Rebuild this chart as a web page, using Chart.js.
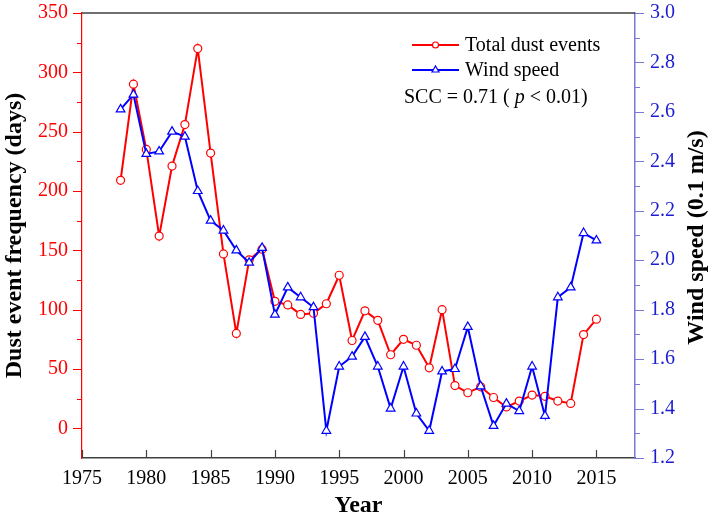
<!DOCTYPE html>
<html>
<head>
<meta charset="utf-8">
<script src="https://cdn.jsdelivr.net/npm/chart.js@4/dist/chart.umd.min.js"></script>
<style>
  html, body { margin: 0; padding: 0; background: #fff; }
  #wrap { width: 712px; height: 520px; }
</style>
</head>
<body>
<div id="wrap"><canvas id="c" width="712" height="520"></canvas></div>
<script>
// ---- data ----
const years = [1978, 1979, 1980, 1981, 1982, 1983, 1984, 1985, 1986, 1987, 1988, 1989,
  1990, 1991, 1992, 1993, 1994, 1995, 1996, 1997, 1998, 1999, 2000, 2001, 2002, 2003,
  2004, 2005, 2006, 2007, 2008, 2009, 2010, 2011, 2012, 2013, 2014, 2015];
const dustEvents = [209, 290, 235, 162, 221, 256, 320, 232, 147, 80, 142, 151,
  107, 104, 96, 97, 105, 129, 74, 99, 91, 62, 75, 70, 51, 100,
  36, 30, 35, 26, 18, 23, 28, 27, 23, 21, 79, 92];
const windSpeed = [2.61, 2.67, 2.43, 2.44, 2.52, 2.50, 2.28, 2.16, 2.12, 2.04, 1.99, 2.05,
  1.78, 1.89, 1.85, 1.81, 1.31, 1.57, 1.61, 1.69, 1.57, 1.40, 1.57, 1.38, 1.31, 1.55,
  1.56, 1.73, 1.49, 1.33, 1.42, 1.39, 1.57, 1.37, 1.85, 1.89, 2.11, 2.08];
const seriesLabels = ['Total dust events', 'Wind speed'];
const xTickLabels = [1975, 1980, 1985, 1990, 1995, 2000, 2005, 2010, 2015];
const leftTickLabels = [0, 50, 100, 150, 200, 250, 300, 350];
const rightTickLabels = [1.2, 1.4, 1.6, 1.8, 2.0, 2.2, 2.4, 2.6, 2.8, 3.0];
const xTitle = 'Year';
const leftTitle = 'Dust event frequency (days)';
const rightTitle = 'Wind speed (0.1 m/s)';
const sccText = ['SCC = 0.71 ( ', 'p', ' < 0.01)'];

// ---- styles ----
const RED = '#ff0000';
const BLUE = '#0000ff';
const BLUE_TXT = '#1c1cd0';
const BLUE_AXIS = '#7a7ad8';
const DARK = '#404040';
const FONT = "'Liberation Serif', 'Times New Roman', serif";
const TITLE_SIZE = 24;

const decorations = {
  id: 'decorations',
  afterDraw(chart) {
    const ctx = chart.ctx;
    const a = chart.chartArea;
    const xs = chart.scales.x, yl = chart.scales.y, yr = chart.scales.y1;
    ctx.save();
    // top frame line
    ctx.strokeStyle = DARK; ctx.lineWidth = 1.5;
    ctx.beginPath(); ctx.moveTo(a.left, a.top); ctx.lineTo(a.right, a.top); ctx.stroke();
    // x ticks (inward)
    ctx.lineWidth = 1.2;
    xTickLabels.forEach(v => {
      const px = Math.round(xs.getPixelForValue(v)) + 0.5;
      ctx.beginPath(); ctx.moveTo(px, a.bottom); ctx.lineTo(px, a.bottom - 8); ctx.stroke();
    });
    // left ticks (outward) major + minor
    ctx.strokeStyle = RED; ctx.lineWidth = 1;
    leftTickLabels.forEach(v => {
      const py = Math.round(yl.getPixelForValue(v)) + 0.5;
      ctx.beginPath(); ctx.moveTo(a.left, py); ctx.lineTo(a.left - 9, py); ctx.stroke();
      if (v + 25 <= 350) {
        const pm = Math.round(yl.getPixelForValue(v + 25)) + 0.5;
        ctx.beginPath(); ctx.moveTo(a.left, pm); ctx.lineTo(a.left - 5, pm); ctx.stroke();
      }
    });
    // right ticks (outward)
    ctx.strokeStyle = BLUE_AXIS;
    rightTickLabels.forEach(v => {
      const py = Math.round(yr.getPixelForValue(v)) + 0.5;
      ctx.beginPath(); ctx.moveTo(a.right, py); ctx.lineTo(a.right + 9, py); ctx.stroke();
      if (v + 0.1 < 3.0) {
        const pm = Math.round(yr.getPixelForValue(v + 0.1)) + 0.5;
        ctx.beginPath(); ctx.moveTo(a.right, pm); ctx.lineTo(a.right + 5, pm); ctx.stroke();
      }
    });
    // right axis title (reads bottom to top)
    ctx.fillStyle = '#000';
    ctx.font = "bold " + TITLE_SIZE + "px " + FONT;
    ctx.textAlign = 'center'; ctx.textBaseline = 'middle';
    ctx.translate(a.right + 62, (a.top + a.bottom) / 2 + 2);
    ctx.rotate(-Math.PI / 2);
    ctx.fillText(rightTitle, 0, 0);
    ctx.restore();

    // legend
    ctx.save();
    ctx.font = "20px " + FONT;
    ctx.textBaseline = 'middle'; ctx.textAlign = 'left';
    const rows = [a.top + 32, a.top + 57];
    chart.data.datasets.forEach((ds, i) => {
      const y = rows[i];
      const x0 = a.right - 223, x1 = a.right - 176;
      ctx.strokeStyle = ds.borderColor; ctx.lineWidth = 2;
      ctx.beginPath(); ctx.moveTo(x0, y); ctx.lineTo(x1, y); ctx.stroke();
      ctx.fillStyle = '#fff'; ctx.strokeStyle = ds.borderColor; ctx.lineWidth = ds.pointBorderWidth;
      Chart.helpers.drawPoint(ctx, {pointStyle: ds.pointStyle, radius: ds.pointRadius - 1, borderWidth: ds.pointBorderWidth, rotation: 0}, (x0 + x1) / 2, y);
      ctx.fillStyle = '#000';
      ctx.fillText(ds.label, a.right - 170, y + 1);
    });
    // SCC annotation
    let sx = a.right - 231; const sy = a.top + 85;
    ctx.fillStyle = '#000';
    ctx.font = "20px " + FONT;
    ctx.fillText(sccText[0], sx, sy); sx += ctx.measureText(sccText[0]).width;
    ctx.font = "italic 20px " + FONT;
    ctx.fillText(sccText[1], sx, sy); sx += ctx.measureText(sccText[1]).width;
    ctx.font = "20px " + FONT;
    ctx.fillText(sccText[2], sx, sy);
    ctx.restore();
  }
};

function fitY(width) {
  return s => { s.width = width; s.paddingTop = 13; s.paddingBottom = 0; };
}

new Chart(document.getElementById('c'), {
  type: 'line',
  data: {
    datasets: [
      {
        label: seriesLabels[0],
        data: years.map((y, i) => ({ x: y, y: dustEvents[i] })),
        yAxisID: 'y',
        borderColor: RED, borderWidth: 2,
        pointStyle: 'circle', pointRadius: 4, pointBorderWidth: 1.2,
        pointBackgroundColor: '#fff', pointBorderColor: RED,
        tension: 0, order: 2
      },
      {
        label: seriesLabels[1],
        data: years.map((y, i) => ({ x: y, y: windSpeed[i] })),
        yAxisID: 'y1',
        borderColor: BLUE, borderWidth: 2,
        pointStyle: 'triangle', pointRadius: 5, pointBorderWidth: 1.2,
        pointBackgroundColor: '#fff', pointBorderColor: BLUE,
        tension: 0, order: 1
      }
    ]
  },
  options: {
    responsive: false,
    animation: false,
    devicePixelRatio: 1,
    layout: { padding: { top: 0, left: 0, right: 0, bottom: 0 } },
    plugins: { legend: { display: false }, tooltip: { enabled: false } },
    scales: {
      x: {
        type: 'linear', min: 1975, max: 2018,
        afterBuildTicks: s => { s.ticks = xTickLabels.map(v => ({ value: v })); },
        afterFit: s => { s.height = 62; s.paddingLeft = 0; s.paddingRight = 0; },
        grid: { display: false, drawTicks: false },
        border: { display: true, color: DARK, width: 1.5 },
        ticks: { color: '#000', font: { family: FONT, size: 20 }, padding: 9,
                 maxRotation: 0, autoSkip: false, callback: v => String(v) },
        title: { display: true, text: xTitle, color: '#000',
                 font: { family: FONT, size: TITLE_SIZE, weight: 'bold' }, padding: 0 }
      },
      y: {
        type: 'linear', position: 'left', min: -25, max: 350,
        afterBuildTicks: s => { s.ticks = leftTickLabels.map(v => ({ value: v })); },
        afterFit: fitY(82),
        grid: { display: false, drawTicks: false },
        border: { display: true, color: RED, width: 1.2 },
        ticks: { color: RED, font: { family: FONT, size: 20 }, padding: 14, callback: v => String(v) },
        title: { display: true, text: leftTitle, color: '#000',
                 font: { family: FONT, size: TITLE_SIZE, weight: 'bold' }, padding: 0 }
      },
      y1: {
        type: 'linear', position: 'right', min: 1.2, max: 3.0,
        afterBuildTicks: s => { s.ticks = rightTickLabels.map(v => ({ value: v })); },
        afterFit: fitY(77),
        grid: { display: false, drawTicks: false },
        border: { display: true, color: BLUE_AXIS, width: 1.5 },
        ticks: { color: BLUE_TXT, font: { family: FONT, size: 20 }, padding: 15,
                 callback: v => Number(v).toFixed(1) }
      }
    }
  },
  plugins: [decorations]
});
</script>
</body>
</html>
